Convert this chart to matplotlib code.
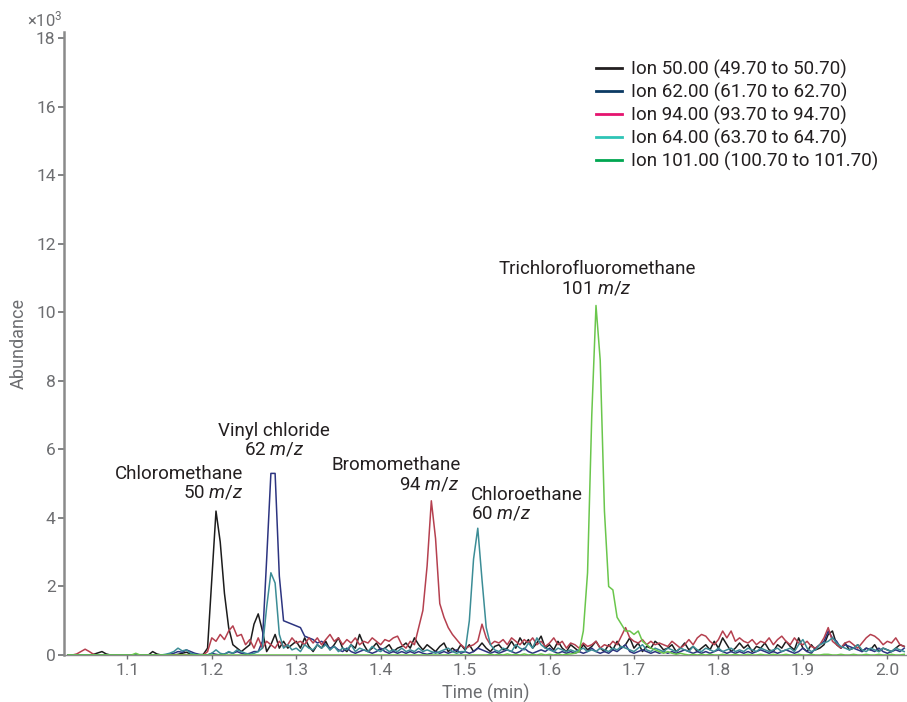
import numpy as np
import matplotlib
matplotlib.use('Agg')
import matplotlib.pyplot as plt
from matplotlib.lines import Line2D

plt.rcParams['font.family'] = ['Roboto', 'DejaVu Sans']
plt.rcParams['mathtext.fontset'] = 'custom'
plt.rcParams['mathtext.rm'] = 'Roboto'
plt.rcParams['mathtext.it'] = 'Roboto:italic'

# scan times (min), one scan every 0.005 min
time_min = np.linspace(1.030, 2.020, 199)

# abundance (x10^3) per ion, 20 scans per row
ion50 = [
    0, 0, 0, 0, 0, 0, 0.02, 0.06, 0.1, 0.03, 0, 0, 0, 0, 0, 0, 0, 0, 0, 0,
    0.1, 0.03, 0, 0, 0, 0, 0.02, 0.05, 0.08, 0.03, 0, 0, 0.02, 0.2, 2.2, 4.2, 3.3, 1.8, 0.8, 0.3,
    0.2, 0.1, 0.2, 0.3, 0.9, 1.2, 0.7, 0.1, 0.3, 0.6, 0.2, 0.4, 0.2, 0.3, 0.4, 0.2, 0.5, 0.25, 0.1, 0.3,
    0.2, 0.4, 0.15, 0.3, 0.5, 0.2, 0.1, 0.3, 0.2, 0.6, 0.3, 0.1, 0.2, 0.35, 0.15, 0.2, 0.3, 0.1, 0.2, 0.25,
    0.35, 0.2, 0.5, 0.3, 0.15, 0.3, 0.2, 0.1, 0.25, 0.35, 0.1, 0.2, 0.1, 0.3, 0.15, 0.3, 0.1, 0.2, 0.35, 0.2,
    0.1, 0.25, 0.3, 0.15, 0.2, 0.4, 0.2, 0.5, 0.3, 0.45, 0.2, 0.35, 0.55, 0.2, 0.3, 0.15, 0.4, 0.2, 0.1, 0.3,
    0.2, 0.1, 0.3, 0.15, 0.25, 0.4, 0.2, 0.1, 0.3, 0.15, 0.4, 0.2, 0.3, 0.5, 0.2, 0.35, 0.1, 0.25, 0.2, 0.4,
    0.3, 0.15, 0.2, 0.3, 0.1, 0.2, 0.35, 0.15, 0.25, 0.1, 0.2, 0.3, 0.15, 0.4, 0.2, 0.5, 0.3, 0.1, 0.2, 0.35,
    0.2, 0.3, 0.1, 0.25, 0.2, 0.35, 0.15, 0.1, 0.3, 0.2, 0.4, 0.25, 0.15, 0.5, 0.2, 0.1, 0.3, 0.15, 0.2, 0.3,
    0.6, 0.7, 0.3, 0.2, 0.35, 0.15, 0.2, 0.3, 0.1, 0.2, 0.15, 0.3, 0.1, 0.2, 0.15, 0.1, 0.2, 0.3, 0.25,
]
ion62 = [
    0, 0, 0, 0, 0, 0, 0, 0, 0, 0, 0, 0, 0, 0, 0, 0, 0, 0, 0, 0,
    0, 0, 0, 0, 0.02, 0.05, 0.1, 0.08, 0.15, 0.1, 0.05, 0.02, 0, 0, 0.05, 0.02, 0, 0.03, 0.08, 0.05,
    0.1, 0.05, 0.02, 0.05, 0.1, 0.1, 0.4, 2.8, 5.3, 5.3, 2.3, 1.0, 0.95, 0.9, 0.85, 0.8, 0.55, 0.5, 0.45, 0.35,
    0.4, 0.3, 0.2, 0.25, 0.15, 0.1, 0.2, 0.1, 0.05, 0.1, 0.15, 0.1, 0.05, 0.1, 0.2, 0.1, 0.05, 0.1, 0.05, 0.1,
    0.05, 0.1, 0.05, 0.1, 0.05, 0.02, 0.05, 0.1, 0.05, 0.1, 0.05, 0.1, 0.15, 0.05, 0.1, 0.05, 0.1, 0.2, 0.15, 0.1,
    0.05, 0.1, 0.05, 0.1, 0.15, 0.1, 0.05, 0.1, 0.2, 0.1, 0.05, 0.1, 0.15, 0.1, 0.2, 0.1, 0.05, 0.1, 0.05, 0.1,
    0.05, 0.1, 0.05, 0.1, 0.2, 0.1, 0.05, 0.1, 0.05, 0.15, 0.1, 0.2, 0.3, 0.1, 0.05, 0.1, 0.15, 0.1, 0.05, 0.1,
    0.05, 0.1, 0.05, 0.1, 0.05, 0.1, 0.15, 0.1, 0.05, 0.1, 0.05, 0.1, 0.05, 0.1, 0.15, 0.1, 0.05, 0.1, 0.05, 0.1,
    0.05, 0.1, 0.05, 0.1, 0.15, 0.1, 0.05, 0.1, 0.05, 0.1, 0.15, 0.1, 0.05, 0.1, 0.2, 0.1, 0.05, 0.2, 0.3, 0.4,
    0.7, 0.5, 0.4, 0.2, 0.3, 0.25, 0.2, 0.15, 0.1, 0.2, 0.15, 0.1, 0.2, 0.1, 0.05, 0.1, 0.15, 0.1, 0.2,
]
ion94 = [
    0, 0, 0.03, 0.1, 0.17, 0.1, 0.02, 0, 0, 0, 0, 0, 0, 0, 0, 0, 0, 0, 0, 0,
    0, 0, 0, 0, 0, 0, 0, 0, 0, 0, 0, 0, 0, 0.1, 0.5, 0.4, 0.6, 0.45, 0.7, 0.85,
    0.55, 0.6, 0.3, 0.45, 0.2, 0.5, 0.2, 0.4, 0.3, 0.2, 0.4, 0.25, 0.3, 0.5, 0.35, 0.4, 0.3, 0.5, 0.35, 0.5,
    0.3, 0.45, 0.6, 0.4, 0.5, 0.3, 0.45, 0.35, 0.5, 0.3, 0.4, 0.35, 0.5, 0.4, 0.3, 0.45, 0.4, 0.5, 0.55, 0.3,
    0.2, 0.4, 0.3, 0.8, 1.3, 2.6, 4.5, 3.4, 1.5, 1.1, 0.8, 0.6, 0.45, 0.3, 0.2, 0.25, 0.3, 0.4, 0.9, 0.5,
    0.3, 0.4, 0.35, 0.45, 0.3, 0.5, 0.4, 0.3, 0.45, 0.35, 0.5, 0.3, 0.4, 0.25, 0.35, 0.5, 0.3, 0.4, 0.2, 0.35,
    0.3, 0.2, 0.35, 0.25, 0.3, 0.4, 0.2, 0.3, 0.25, 0.4, 0.3, 0.55, 0.8, 0.5, 0.4, 0.35, 0.45, 0.3, 0.4, 0.3,
    0.35, 0.3, 0.25, 0.4, 0.3, 0.2, 0.3, 0.45, 0.3, 0.5, 0.6, 0.55, 0.4, 0.3, 0.45, 0.7, 0.5, 0.7, 0.4, 0.5,
    0.4, 0.35, 0.45, 0.3, 0.4, 0.35, 0.5, 0.3, 0.45, 0.55, 0.4, 0.3, 0.5, 0.35, 0.3, 0.4, 0.25, 0.2, 0.3, 0.5,
    0.8, 0.4, 0.3, 0.2, 0.35, 0.4, 0.3, 0.2, 0.35, 0.5, 0.6, 0.55, 0.45, 0.3, 0.4, 0.35, 0.5, 0.3, 0.25,
]
ion64 = [
    0, 0, 0, 0, 0, 0, 0, 0, 0, 0, 0, 0, 0, 0, 0, 0, 0, 0, 0, 0,
    0, 0, 0, 0.02, 0.05, 0.1, 0.2, 0.12, 0.15, 0.05, 0.02, 0, 0, 0, 0.05, 0.15, 0.05, 0.02, 0.1, 0.05,
    0.15, 0.1, 0.05, 0.02, 0.05, 0.1, 0.2, 1.4, 2.4, 2.1, 0.6, 0.2, 0.3, 0.15, 0.2, 0.1, 0.3, 0.2, 0.15, 0.3,
    0.2, 0.3, 0.15, 0.25, 0.1, 0.2, 0.15, 0.3, 0.1, 0.2, 0.15, 0.1, 0.25, 0.15, 0.1, 0.2, 0.1, 0.15, 0.1, 0.2,
    0.1, 0.15, 0.1, 0.2, 0.1, 0.15, 0.1, 0.05, 0.1, 0.15, 0.2, 0.1, 0.05, 0.1, 0.1, 1.0, 2.8, 3.7, 2.2, 0.8,
    0.3, 0.15, 0.1, 0.2, 0.15, 0.1, 0.3, 0.2, 0.15, 0.35, 0.2, 0.5, 0.3, 0.2, 0.15, 0.1, 0.2, 0.15, 0.1, 0.15,
    0.1, 0.15, 0.2, 0.1, 0.15, 0.1, 0.2, 0.15, 0.1, 0.2, 0.15, 0.25, 0.2, 0.15, 0.1, 0.2, 0.3, 0.15, 0.1, 0.2,
    0.15, 0.1, 0.2, 0.15, 0.1, 0.2, 0.15, 0.1, 0.25, 0.15, 0.1, 0.2, 0.15, 0.1, 0.2, 0.1, 0.15, 0.2, 0.1, 0.15,
    0.1, 0.2, 0.15, 0.1, 0.2, 0.15, 0.1, 0.15, 0.2, 0.1, 0.15, 0.2, 0.1, 0.3, 0.45, 0.2, 0.1, 0.15, 0.3, 0.35,
    0.4, 0.5, 0.35, 0.25, 0.2, 0.15, 0.2, 0.3, 0.15, 0.1, 0.2, 0.15, 0.1, 0.2, 0.15, 0.1, 0.2, 0.15, 0.1,
]
ion101 = [
    0, 0, 0, 0, 0, 0, 0, 0, 0, 0, 0, 0, 0, 0, 0, 0, 0.05, 0, 0, 0,
    0, 0, 0, 0, 0, 0, 0, 0, 0, 0, 0, 0, 0, 0, 0, 0, 0, 0, 0, 0,
    0, 0, 0, 0, 0, 0, 0, 0, 0, 0, 0, 0, 0, 0, 0, 0, 0, 0, 0, 0,
    0, 0, 0, 0, 0, 0, 0, 0, 0, 0, 0, 0, 0, 0, 0, 0, 0, 0, 0, 0,
    0, 0, 0, 0, 0, 0, 0, 0, 0, 0, 0, 0, 0, 0, 0, 0, 0, 0, 0, 0,
    0.02, 0, 0.02, 0, 0.03, 0, 0.02, 0, 0.03, 0, 0.02, 0, 0.03, 0, 0.02, 0, 0.03, 0, 0.02, 0.03,
    0.05, 0.1, 0.7, 2.4, 7.0, 10.2, 8.6, 4.2, 2.0, 1.9, 1.1, 0.9, 0.7, 0.7, 0.6, 0.7, 0.4, 0.3, 0.2, 0.15,
    0.1, 0.05, 0.1, 0.05, 0.02, 0.05, 0.02, 0, 0.02, 0, 0.02, 0, 0.02, 0, 0, 0.02, 0, 0, 0.02, 0,
    0, 0.02, 0, 0, 0.02, 0, 0, 0.02, 0, 0, 0.02, 0, 0, 0.02, 0, 0, 0.02, 0, 0, 0.02,
    0.02, 0, 0, 0.02, 0, 0, 0.02, 0, 0, 0.02, 0, 0, 0.02, 0, 0, 0.02, 0, 0, 0.02,
]

series = [ion50, ion62, ion94, ion64, ion101]
legend_labels = ['Ion 50.00 (49.70 to 50.70)', 'Ion 62.00 (61.70 to 62.70)',
                 'Ion 94.00 (93.70 to 94.70)', 'Ion 64.00 (63.70 to 64.70)',
                 'Ion 101.00 (100.70 to 101.70)']
trace_colors = ['#1c1c1c', '#2c3480', '#b5404f', '#3c8d96', '#6ac64c']
legend_colors = ['#231f20', '#0b3a63', '#e5146f', '#2ec4b6', '#00a651']

gray = '#6d6e71'

fig = plt.figure(figsize=(9.07, 7.02), dpi=100)
ax = fig.add_axes([64 / 907, 1 - 655 / 702, 1 - 64 / 907, (655 - 31.7) / 702])

for vals, c in zip(series, trace_colors):
    ax.plot(time_min, vals, color=c, lw=1.1)

ax.set_xlim(1.025, 2.0233)
ax.set_ylim(0, 18.19)
ax.set_xticks([1.1, 1.2, 1.3, 1.4, 1.5, 1.6, 1.7, 1.8, 1.9, 2.0])
ax.set_xticklabels(['1.1', '1.2', '1.3', '1.4', '1.5', '1.6', '1.7', '1.8', '1.9', '2.0'])
ax.set_yticks(range(0, 19, 2))
ax.tick_params(axis='y', colors=gray, labelsize=12.5, length=4, width=1.2, pad=2)
ax.tick_params(axis='x', colors=gray, labelsize=12.5, length=3, width=1.0, pad=3)
for s in ['top', 'right']:
    ax.spines[s].set_visible(False)
ax.spines['left'].set_color('#8a8a8a')
ax.spines['left'].set_linewidth(1.8)
ax.spines['bottom'].set_color('#8a8a8a')
ax.spines['bottom'].set_linewidth(1.0)
ax.spines['bottom'].set_zorder(0)

ax.set_xlabel('Time (min)', color=gray, fontsize=13, labelpad=4)
ax.set_ylabel('Abundance', color=gray, fontsize=13, labelpad=6)
fig.text(27 / 907, 1 - 19 / 702, '×10$^3$', color=gray, fontsize=12, va='center', ha='left')

# peak labels
txt = dict(fontsize=13.5, color='#231f20', va='center')
ax.text(1.2370, 5.28, 'Chloromethane', ha='right', **txt)
ax.text(1.2370, 4.73, '50 $m/z$', ha='right', **txt)
ax.text(1.2737, 6.54, 'Vinyl chloride', ha='center', **txt)
ax.text(1.2743, 6.01, '62 $m/z$', ha='center', **txt)
ax.text(1.4952, 5.55, 'Bromomethane', ha='right', **txt)
ax.text(1.4928, 4.99, '94 $m/z$', ha='right', **txt)
ax.text(1.5070, 4.67, 'Chloroethane', ha='left', **txt)
ax.text(1.5070, 4.12, '60 $m/z$', ha='left', **txt)
ax.text(1.6571, 11.27, 'Trichlorofluoromethane', ha='center', **txt)
ax.text(1.6556, 10.71, '101 $m/z$', ha='center', **txt)

handles = [Line2D([], [], color=c, lw=2) for c in legend_colors]
fig.legend(handles, legend_labels, loc='upper left', bbox_to_anchor=(596 / 907, 1 - 60 / 702),
           frameon=False, fontsize=13.5, handlelength=1.4, handletextpad=0.45,
           labelspacing=0.2, borderpad=0, borderaxespad=0, labelcolor='#231f20')

fig.savefig('out.png', dpi=100)
